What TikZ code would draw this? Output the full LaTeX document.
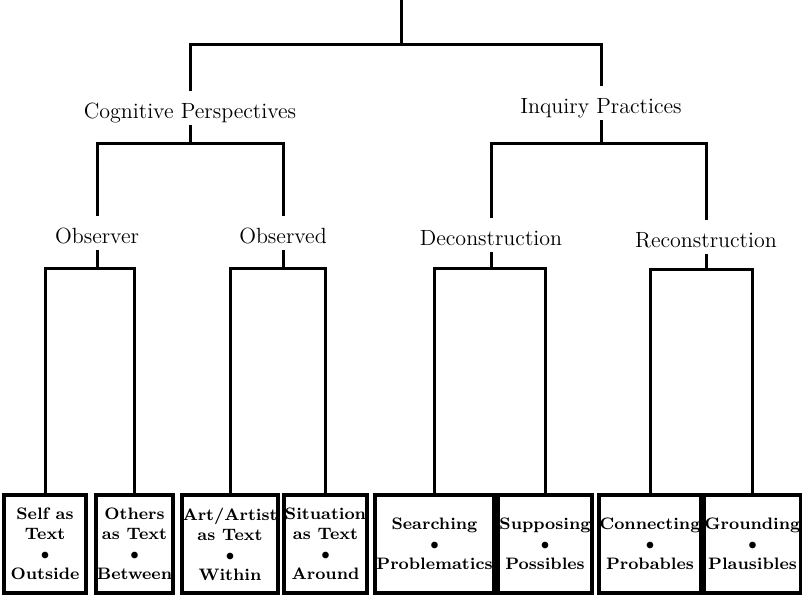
\documentclass[tikz,border=0pt]{standalone}
\usepackage{tikz}
\usetikzlibrary{positioning,calc}

\begin{document}
\begin{tikzpicture}[
        x=0.5pt, y=-0.5pt,
        heading/.style={anchor=base, inner sep=0pt, text height=13.5pt, text depth=3.5pt, font=\fontsize{11}{13}\selectfont},
        card/.style={draw, line width=2pt, minimum height=49pt, inner xsep=0.5pt, inner ysep=0pt, align=center, font=\bfseries\fontsize{8.3}{10}\selectfont},
        link/.style={line width=1.5pt}
    ]
        \useasboundingbox (0,0) rectangle (802,596);

        % Root of the tree
        \coordinate (root) at (401,0);

        % First level
        \node[heading] (cog) at (190,118) {Cognitive Perspectives};
        \node[heading] (inq) at (601,113) {Inquiry Practices};

        % Second level
        \node[heading] (obsr) at (97,243) {Observer};
        \node[heading] (obsd) at (283,243) {Observed};
        \node[heading] (dec) at (491,245) {Deconstruction};
        \node[heading] (rec) at (706,247) {Reconstruction};

        % Boxes at the bottom
        \node[card, minimum width=41pt] (self) at (45,544) {Self as\\Text\\$\bullet$\\Outside};
        \node[card, minimum width=38.5pt] (others) at (134.5,544) {Others\\as Text\\$\bullet$\\Between};
        \node[card, minimum width=46pt] (art) at (230,544) {Art/Artist\\as Text\\$\bullet$\\Within};
        \node[card, minimum width=40.5pt] (situ) at (325.5,544) {Situation\\as Text\\$\bullet$\\Around};
        \node[card, minimum width=55.5pt] (search) at (434.5,544) {Searching\\$\bullet$\\Problematics};
        \node[card, minimum width=46pt] (suppose) at (545,544) {Supposing\\$\bullet$\\Possibles};
        \node[card, minimum width=48pt] (connect) at (650,544) {Connecting\\$\bullet$\\Probables};
        \node[card, minimum width=45.5pt] (ground) at (752.5,544) {Grounding\\$\bullet$\\Plausibles};

        % Root branches
        \draw[link] (root) -- (root |- 0,44) -| (cog.north);
        \draw[link] (root |- 0,44) -| (inq.north);

        % First level branches
        \draw[link] (cog.south) -- (cog.south |- 0,143) -| (obsr.north);
        \draw[link] (cog.south |- 0,143) -| (obsd.north);
        \draw[link] (inq.south) -- (inq.south |- 0,143) -| (dec.north);
        \draw[link] (inq.south |- 0,143) -| (rec.north);

        % Second level branches
        \draw[link] (obsr.south) -- (obsr.south |- 0,268) -| (self.north);
        \draw[link] (obsr.south |- 0,268) -| (others.north);
        \draw[link] (obsd.south) -- (obsd.south |- 0,268) -| (art.north);
        \draw[link] (obsd.south |- 0,268) -| (situ.north);
        \draw[link] (dec.south) -- (dec.south |- 0,268) -| (search.north);
        \draw[link] (dec.south |- 0,268) -| (suppose.north);
        \draw[link] (rec.south) -- (rec.south |- 0,269) -| (connect.north);
        \draw[link] (rec.south |- 0,269) -| (ground.north);
    \end{tikzpicture}
\end{document}
